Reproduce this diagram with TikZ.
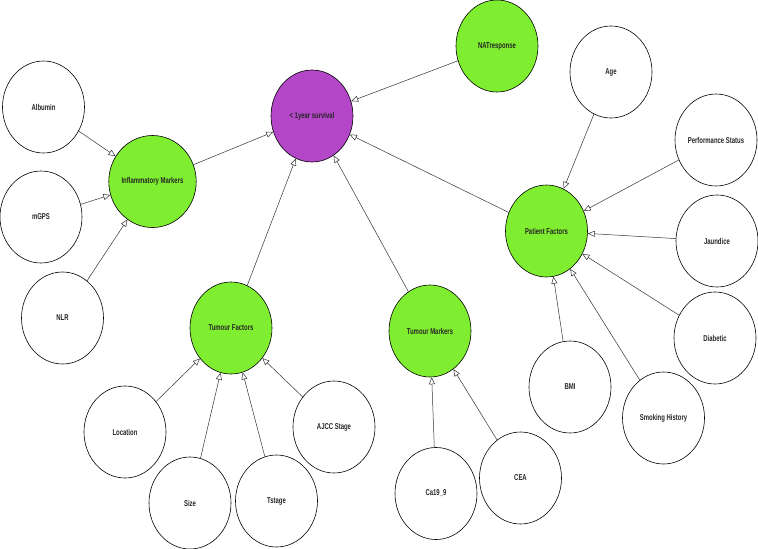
\documentclass[tikz,border=0pt]{standalone}
\usepackage{fontspec}
\newfontfamily\nodefont{Liberation Sans}[FakeStretch=0.7,BoldFont={Liberation Sans Bold},BoldFeatures={FakeStretch=0.7}]
\usetikzlibrary{shapes.geometric,arrows.meta}
\definecolor{ngreen}{HTML}{80EE30}
\definecolor{npurple}{HTML}{B447C8}
\tikzset{
  var/.style={ellipse, draw=black, line width=0.6pt, fill=white, minimum width=82pt, minimum height=92pt, inner sep=0pt, font=\nodefont\fontsize{8.5}{10}\selectfont\bfseries, text=black!85},
  grp/.style={var, fill=ngreen},
  tgt/.style={var, fill=npurple},
  edge/.style={draw=black!80, line width=0.5pt, -{Triangle[open, length=7pt, width=6pt]}}
}
\begin{document}
\begin{tikzpicture}[x=1pt,y=-1pt]
\useasboundingbox (0,0) rectangle (758,549);
\node[tgt] (surv) at (312,116) {< 1year survival};
\node[grp] (nat) at (497,46) {NATresponse};
\node[grp] (im) at (152.5,181.5) {Inflammatory Markers};
\node[grp] (pf) at (546.5,231) {Patient Factors};
\node[grp] (tf) at (231,328) {Tumour Factors};
\node[grp] (tm) at (430,331) {Tumour Markers};
\node[var] (alb) at (43.5,107) {Albumin};
\node[var] (mgps) at (41,217) {mGPS};
\node[var] (nlr) at (62.5,318) {NLR};
\node[var] (age) at (611,72) {Age};
\node[var] (ps) at (716,140) {Performance Status};
\node[var] (jau) at (717,241) {Jaundice};
\node[var] (dia) at (715,338) {Diabetic};
\node[var] (bmi) at (570,387) {BMI};
\node[var] (smk) at (663.5,418) {Smoking History};
\node[var] (loc) at (125,432) {Location};
\node[var] (size) at (190,503) {Size};
\node[var] (tst) at (276.5,501) {Tstage};
\node[var] (ajcc) at (334,427) {AJCC Stage};
\node[var] (ca) at (436,493.5) {Ca19\_9};
\node[var] (cea) at (520.5,478) {CEA};
\foreach \a/\b in {alb/im, mgps/im, nlr/im, im/surv, nat/surv, pf/surv, tf/surv, tm/surv,
  age/pf, ps/pf, jau/pf, dia/pf, bmi/pf, smk/pf, loc/tf, size/tf, tst/tf, ajcc/tf, ca/tm, cea/tm}
  \draw[edge] (\a) -- (\b);
\end{tikzpicture}
\end{document}
